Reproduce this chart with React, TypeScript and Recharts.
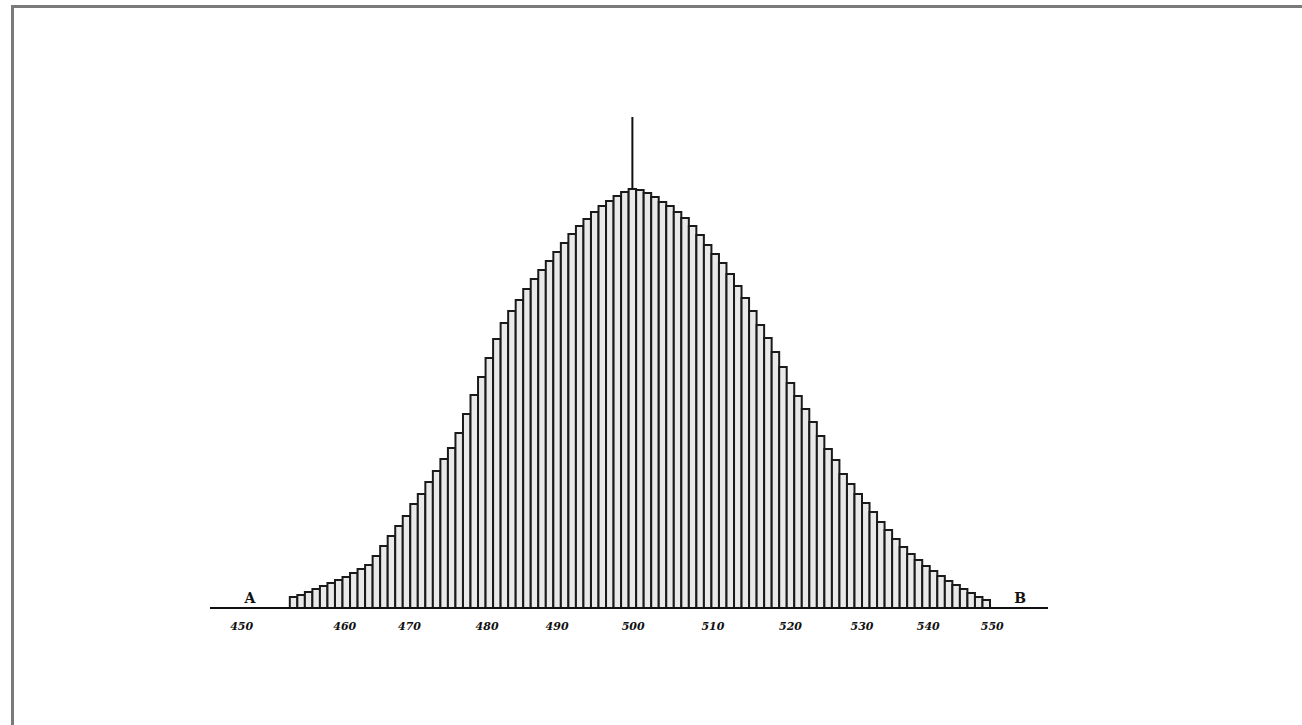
import { BarChart, Bar, XAxis, YAxis, ReferenceLine, ReferenceDot } from 'recharts'

// heights of the 93 columns (arbitrary units)
const HEIGHTS = [
  11, 13, 16, 19, 22, 25, 28, 31, 35, 39,
  43, 52, 62, 72, 82, 92, 104, 114, 126, 137,
  149, 160, 175, 194, 213, 231, 250, 269, 285, 297,
  308, 319, 329, 338, 347, 356, 365, 374, 382, 389,
  396, 402, 407, 412, 416, 419, 418, 415, 411, 406,
  402, 396, 390, 382, 373, 363, 354, 345, 334, 322,
  310, 297, 283, 270, 256, 241, 225, 212, 199, 186,
  172, 159, 148, 134, 124, 114, 105, 96, 86, 78,
  69, 61, 54, 48, 42, 37, 32, 27, 23, 19,
  15, 11, 8,
]

// scale marks along the base line (position in column units) and their labels
const LABEL_POS = [-6.9, 6.8, 15.4, 25.7, 35.0, 45.1, 55.7, 66.0, 75.5, 84.3, 92.8]
const LABEL_TEXT = ['450', '460', '470', '480', '490', '500', '510', '520', '530', '540', '550']

const PEAK_INDEX = 45
const SPIKE_TOP = 491

const data = HEIGHTS.map((h, i) => ({ i, h }))

export default function App() {
  return (
    <div
      style={{
        position: 'absolute',
        left: 0,
        top: 0,
        width: 1302,
        height: 725,
        overflow: 'hidden',
        background: '#fff',
      }}
    >
      {/* plate frame */}
      <div
        style={{
          position: 'absolute',
          left: 11,
          top: 5,
          width: 1400,
          height: 800,
          borderLeft: '3px solid #7a7a7a',
          borderTop: '3px solid #7a7a7a',
        }}
      />
      <div style={{ position: 'absolute', left: 0, top: 0 }}>
        <BarChart
          width={1302}
          height={725}
          data={data}
          margin={{ top: 108, right: 254, left: 210, bottom: 87 }}
        >
          <XAxis
            dataKey="i"
            type="number"
            domain={[-11.1, 100.2]}
            ticks={LABEL_POS}
            interval={0}
            tickFormatter={v => LABEL_TEXT[LABEL_POS.indexOf(v)] ?? ''}
            tickLine={false}
            tickSize={0}
            tickMargin={14}
            height={30}
            axisLine={{ stroke: '#111', strokeWidth: 2 }}
            tick={{
              fill: '#111',
              fontSize: 11,
              fontFamily: 'DejaVu Serif',
              fontStyle: 'italic',
              fontWeight: 'bold',
            }}
          />
          <YAxis hide domain={[0, 500]} />
          <Bar
            dataKey="h"
            barSize={7.5}
            fill="#e9e9e9"
            stroke="#1a1a1a"
            strokeWidth={2}
            isAnimationActive={false}
          />
          <ReferenceLine
            segment={[
              { x: PEAK_INDEX, y: HEIGHTS[PEAK_INDEX] },
              { x: PEAK_INDEX, y: SPIKE_TOP },
            ]}
            stroke="#111"
            strokeWidth={2}
          />
          <ReferenceDot
            x={-5.8}
            y={0}
            r={0}
            label={{ value: 'A', position: 'top', fill: '#111', fontSize: 14, fontFamily: 'DejaVu Serif', fontWeight: 'bold' }}
          />
          <ReferenceDot
            x={96.5}
            y={0}
            r={0}
            label={{ value: 'B', position: 'top', fill: '#111', fontSize: 14, fontFamily: 'DejaVu Serif', fontWeight: 'bold' }}
          />
        </BarChart>
      </div>
    </div>
  )
}
